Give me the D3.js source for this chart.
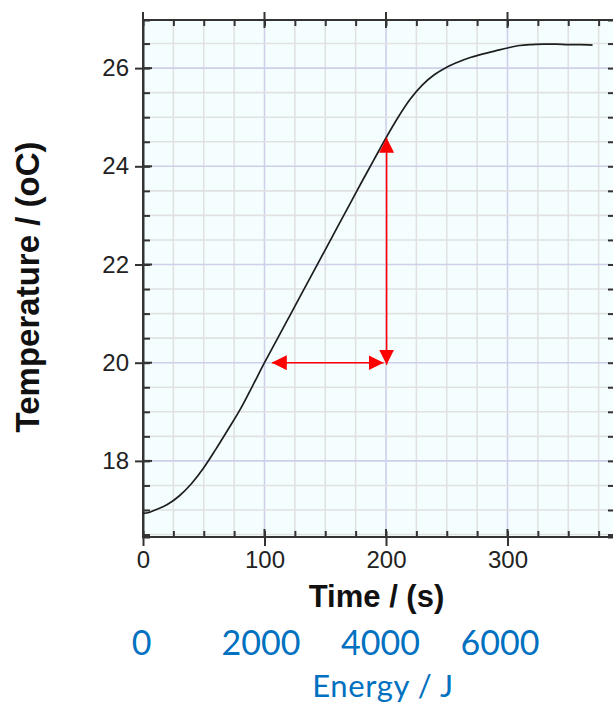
<!DOCTYPE html>
<html>
<head>
<meta charset="utf-8">
<script src="https://cdn.jsdelivr.net/npm/d3@7/dist/d3.min.js"></script>
<style>
  html, body { margin: 0; padding: 0; background: #fff; }
  svg { display: block; }
</style>
</head>
<body>
<script>
// ---- Data ----
const timeS = [0, 5, 10, 20, 30, 40, 50, 60, 70, 80, 90, 100, 110, 120, 130, 140, 150, 160, 170, 180, 190, 200,
               210, 220, 230, 240, 250, 260, 270, 280, 290, 300, 310, 320, 330, 340, 350, 360, 370];
const tempC = [16.93, 16.95, 17.0, 17.11, 17.29, 17.54, 17.86, 18.24, 18.64, 19.05, 19.52, 20.0, 20.46, 20.92, 21.38, 21.84, 22.3, 22.76, 23.22, 23.68, 24.13, 24.58,
               25.0, 25.37, 25.66, 25.87, 26.02, 26.13, 26.22, 26.29, 26.35, 26.41, 26.46, 26.48, 26.49, 26.49, 26.48, 26.48, 26.47];
const xMajorTicks = [0, 100, 200, 300];
const yMajorTicks = [18, 20, 22, 24, 26];
const energyTicks = [0, 2000, 4000, 6000];
const arrowsH = [{ t1: 106, T1: 20, t2: 198, T2: 20 }];
const arrowsV = [{ t1: 200.5, T1: 19.96, t2: 200.5, T2: 24.58 }];
const xLabel = "Time / (s)";
const yLabel = "Temperature / (oC)";
const energyLabel = "Energy / J";

(function () {
// ---- Layout ----
const W = 613, H = 706;
const pLeft = 143, pTop = 20, pBottom = 537, pRight = 614;
const pxPerS = 1.215;

const x = d3.scaleLinear().domain([0, 100]).range([pLeft, pLeft + 100 * pxPerS]);
const xMax = x.invert(pRight);
const y = d3.scaleLinear().domain([16.45, 26.98]).range([pBottom, pTop]);
const eScale = d3.scaleLinear().domain([0, 6000]).range([141.5, 500]);

const xMinor = d3.range(0, xMax, 25);
const yMinor = d3.range(16.5, 27, 0.5);

const svg = d3.select("body").append("svg").attr("width", W).attr("height", H);
svg.append("rect").attr("width", W).attr("height", H).attr("fill", "#fff");

svg.append("rect")
  .attr("x", pLeft).attr("y", pTop)
  .attr("width", pRight - pLeft).attr("height", pBottom - pTop)
  .attr("fill", "#f4fefe");

const grid = svg.append("g");
grid.selectAll("line.vx").data(xMinor.filter(d => d > 0)).join("line")
  .attr("x1", d => x(d)).attr("x2", d => x(d))
  .attr("y1", pTop).attr("y2", pBottom)
  .attr("stroke", d => (d % 100 === 0) ? "#cfcfec" : "#e1e1e1")
  .attr("stroke-width", 1.6);
grid.selectAll("line.hy").data(yMinor).join("line")
  .attr("x1", pLeft).attr("x2", pRight)
  .attr("y1", d => y(d)).attr("y2", d => y(d))
  .attr("stroke", d => (d % 2 === 0) ? "#cfcfec" : "#e1e1e1")
  .attr("stroke-width", 1.6);

const axisColor = "#333";
function styleAxis(g, fs) {
  g.select(".domain").attr("stroke", axisColor).attr("stroke-width", 2);
  g.selectAll(".tick line").attr("stroke", axisColor).attr("stroke-width", 2);
  g.selectAll(".tick text").attr("fill", "#222")
    .style("font-family", "'Liberation Sans', Arial, sans-serif").style("font-size", fs + "px");
}

const gLeftMinor = svg.append("g").attr("transform", `translate(${pLeft},0)`)
  .call(d3.axisRight(y).tickValues(yMinor).tickSize(7).tickFormat(""));
styleAxis(gLeftMinor, 24);
const gLeftMajor = svg.append("g").attr("transform", `translate(${pLeft},0)`)
  .call(d3.axisLeft(y).tickValues(yMajorTicks).tickSizeInner(8).tickSizeOuter(0).tickPadding(6).tickFormat(d3.format("d")));
styleAxis(gLeftMajor, 24);
gLeftMajor.select(".domain").remove();
svg.append("g").selectAll("line").data(yMajorTicks).join("line")
  .attr("x1", pLeft).attr("x2", pLeft + 9).attr("y1", d => y(d)).attr("y2", d => y(d))
  .attr("stroke", axisColor).attr("stroke-width", 2);
svg.append("line").attr("x1", pLeft).attr("x2", pLeft).attr("y1", pTop - 8).attr("y2", pBottom + 1)
  .attr("stroke", axisColor).attr("stroke-width", 2);

const gBottomMinor = svg.append("g").attr("transform", `translate(0,${pBottom})`)
  .call(d3.axisTop(x).tickValues(xMinor).tickSize(6).tickFormat(""));
styleAxis(gBottomMinor, 24);
gBottomMinor.select(".domain").attr("d", `M${pLeft},0H${pRight}`);
const gBottomMajor = svg.append("g").attr("transform", `translate(0,${pBottom})`)
  .call(d3.axisBottom(x).tickValues(xMajorTicks).tickSizeInner(9).tickSizeOuter(0).tickPadding(5).tickFormat(d3.format("d")));
styleAxis(gBottomMajor, 24);
gBottomMajor.select(".domain").remove();
svg.append("g").selectAll("line").data(xMajorTicks).join("line")
  .attr("x1", d => x(d)).attr("x2", d => x(d)).attr("y1", pBottom).attr("y2", pBottom - 8)
  .attr("stroke", axisColor).attr("stroke-width", 2);

const gTopMinor = svg.append("g").attr("transform", `translate(0,${pTop})`)
  .call(d3.axisBottom(x).tickValues(xMinor).tickSize(6).tickFormat(""));
styleAxis(gTopMinor, 24);
gTopMinor.select(".domain").attr("d", `M${pLeft},0H${pRight}`);
svg.append("g").selectAll("line").data(xMajorTicks.filter(d => d > 0)).join("line")
  .attr("x1", d => x(d)).attr("x2", d => x(d)).attr("y1", pTop - 8).attr("y2", pTop + 8)
  .attr("stroke", axisColor).attr("stroke-width", 2);

const gRight = svg.append("g").attr("transform", `translate(${pRight},0)`)
  .call(d3.axisLeft(y).tickValues(yMinor).tickSize(6).tickFormat(""));
styleAxis(gRight, 24);

const line = d3.line().x((d, i) => x(timeS[i])).y(d => y(d)).curve(d3.curveMonotoneX);
svg.append("path").attr("d", line(tempC))
  .attr("fill", "none").attr("stroke", "#1e1e1e").attr("stroke-width", 1.7)
  .attr("stroke-linejoin", "round");

const defs = svg.append("defs");
defs.append("marker").attr("id", "ah").attr("viewBox", "0 0 10 10")
  .attr("refX", 10).attr("refY", 5).attr("markerWidth", 15).attr("markerHeight", 15)
  .attr("markerUnits", "userSpaceOnUse").attr("orient", "auto-start-reverse")
  .append("path").attr("d", "M0,0L10,5L0,10Z").attr("fill", "#ff0000");
const arrows = arrowsH.concat(arrowsV);
svg.append("g").selectAll("line").data(arrows).join("line")
  .attr("x1", d => x(d.t1)).attr("y1", d => y(d.T1))
  .attr("x2", d => x(d.t2)).attr("y2", d => y(d.T2))
  .attr("stroke", "#ff0000").attr("stroke-width", 1.6)
  .attr("marker-start", "url(#ah)").attr("marker-end", "url(#ah)");

svg.append("text").attr("x", (308 + 445) / 2).attr("y", 607)
  .attr("text-anchor", "middle")
  .style("font-family", "'Liberation Sans', Arial, sans-serif").style("font-weight", "bold").style("font-size", "31px")
  .attr("fill", "#111").text(xLabel);
svg.append("text").attr("transform", "translate(39,287) rotate(-90)")
  .attr("text-anchor", "middle")
  .style("font-family", "'Liberation Sans', Arial, sans-serif").style("font-weight", "bold").style("font-size", "33px")
  .attr("fill", "#111").text(yLabel);

svg.append("g").selectAll("text").data(energyTicks).join("text")
  .attr("x", d => eScale(d)).attr("y", 655).attr("text-anchor", "middle")
  .style("font-family", "Lato, 'Open Sans', sans-serif").style("font-size", "34px")
  .attr("fill", "#0070c0").text(d => d);
svg.append("text").attr("x", 383).attr("y", 697).attr("text-anchor", "middle")
  .style("font-family", "Lato, 'Open Sans', sans-serif").style("font-size", "31px")
  .style("letter-spacing", "0.6px")
  .attr("fill", "#0070c0").text(energyLabel);
})();
</script>
</body>
</html>
